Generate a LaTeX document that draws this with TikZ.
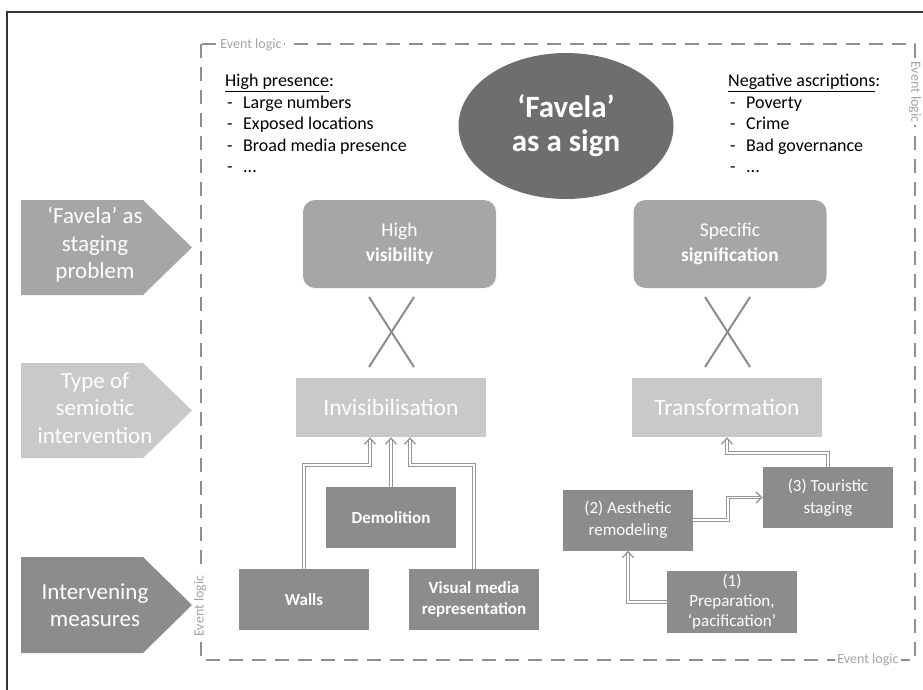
\documentclass[tikz,border=0pt]{standalone}
\usepackage{fontspec}
\setmainfont{Carlito}
\usetikzlibrary{arrows.meta,shapes.geometric}

\definecolor{signgray}{HTML}{6E6E6E}
\definecolor{probgray}{HTML}{A6A6A6}
\definecolor{typegray}{HTML}{C9C9C9}
\definecolor{measgray}{HTML}{8C8C8C}
\definecolor{framegray}{HTML}{8E8E8E}
\definecolor{linegray}{HTML}{979797}

\newcommand{\fsz}[2]{\fontsize{#1}{#2}\selectfont}
\newcommand{\itemdash}{\makebox[18pt][l]{\hspace{2pt}-}}

\tikzset{
  probbox/.style={fill=probgray, rounded corners=12pt, minimum width=193pt, minimum height=88pt, text=white, align=center, font=\fsz{19.5}{25}},
  typebox/.style={fill=typegray, minimum width=190pt, minimum height=59pt, text=white, font=\fsz{23.5}{28}},
  measbox/.style={fill=measgray, minimum width=130pt, minimum height=61pt, text=white, align=center, font=\bfseries\fsz{17}{21}},
  flow/.style={draw=linegray, double=white, double distance=1.8pt, line width=1pt, -{Straight Barb[length=6pt,width=11pt,line width=1.3pt]}},
  cross/.style={draw=measgray, line width=2pt},
  levellabel/.style={text=white, align=center, font=\fsz{23}{27.5}},
  logiclabel/.style={text=framegray!80, fill=white, inner sep=2pt, font=\fsz{14}{16}},
  listtext/.style={align=left, anchor=north west, inner sep=0pt, font=\fsz{18}{21.5}},
}

\begin{document}
\begin{tikzpicture}[x=1pt,y=-1pt]
 \useasboundingbox (0,0) rectangle (923,690);
 % outer frame
 \draw[black!80, line width=2pt] (7,690) -- (7,12) -- (923,12);
 % event logic frame
 \draw[framegray, line width=2.5pt, dash pattern=on 14pt off 9pt] (201,44) rectangle (915,660);
 \node[logiclabel] (logictop) at (251,45) {Event logic};
 \node[logiclabel, rotate=-90] (logicright) at (915,92) {Event logic};
 \node[logiclabel, rotate=90] (logicleft) at (200,606) {Event logic};
 \node[logiclabel] (logicbottom) at (868,660) {Event logic};

 % level arrows on the left
 \fill[probgray] (21,200) -- (143,200) -- (192,247.5) -- (143,295) -- (21,295) -- cycle;
 \fill[typegray] (21,363) -- (143,363) -- (192,410.5) -- (143,458) -- (21,458) -- cycle;
 \fill[measgray] (21,557) -- (143,557) -- (192,605) -- (143,653) -- (21,653) -- cycle;
 \node[levellabel] (problem) at (95,245) {‘Favela’ as\\staging\\problem};
 \node[levellabel] (semiotic) at (95,408) {Type of\\semiotic\\intervention};
 \node[levellabel] (measures) at (95,605) {Intervening\\measures};

 % the sign and its ascriptions
 \node[ellipse, fill=signgray, minimum width=215pt, minimum height=146pt, text=white, align=center, font=\bfseries\fsz{31}{34}] (sign) at (566,126) {‘Favela’\\as a sign};
 \node[listtext] (presence) at (225,74) {\underline{High presence}:\\ \itemdash Large numbers\\ \itemdash Exposed locations\\ \itemdash Broad media presence\\ \itemdash ...};
 \node[listtext] (ascription) at (728,74) {\underline{Negative ascriptions}:\\ \itemdash Poverty\\ \itemdash Crime\\ \itemdash Bad governance\\ \itemdash ...};

 % staging problem
 \node[probbox] (visibility) at (399.5,244) {High\\\textbf{visibility}};
 \node[probbox] (signification) at (730,244) {Specific\\\textbf{signification}};
 \draw[cross] (369,297) -- (414,367);
 \draw[cross] (414,297) -- (369,367);
 \draw[cross] (705,297) -- (750,367);
 \draw[cross] (750,297) -- (705,367);

 % type of intervention
 \node[typebox] (invis) at (391,407.5) {Invisibilisation};
 \node[typebox] (transf) at (727,407.5) {Transformation};

 % measures
 \node[measbox] (demolition) at (391,517.5) {Demolition};
 \node[measbox] (walls) at (304,599.5) {Walls};
 \node[measbox] (media) at (474,599.5) {Visual media\\representation};
 \node[measbox, font=\fsz{17}{22}] (aesthetic) at (628,520) {(2) Aesthetic\\remodeling};
 \node[measbox, font=\fsz{17}{22}] (touristic) at (828,497.5) {(3) Touristic\\staging};
 \node[measbox, font=\fsz{17}{20}, minimum height=62pt] (prep) at (732,602) {(1)\\Preparation,\\‘pacification’};

 \draw[flow] (walls.north) |- ([xshift=-21pt,yshift=-28pt]invis.south) -- ([xshift=-21pt]invis.south);
 \draw[flow] (demolition.north) -- (invis.south);
 \draw[flow] (media.north) |- ([xshift=19pt,yshift=-28pt]invis.south) -- ([xshift=19pt]invis.south);
 \draw[flow] (prep.west) -| (aesthetic.south);
 \draw[flow] (aesthetic.east) -- ++(35,0) |- (touristic.west);
 \draw[flow] (touristic.north) |- ([yshift=-16pt]transf.south) -- (transf.south);
\end{tikzpicture}
\end{document}
